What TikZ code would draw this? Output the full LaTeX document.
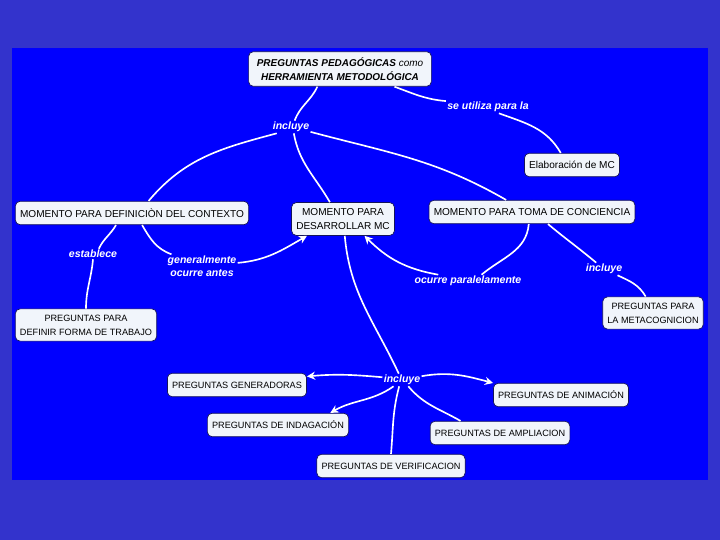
\documentclass[tikz,border=0pt]{standalone}
\usepackage{fontspec}
\setmainfont{Liberation Sans}
\usetikzlibrary{arrows.meta}
\definecolor{frame}{RGB}{51,51,204}
\definecolor{sheet}{RGB}{0,0,255}
\definecolor{boxfill}{RGB}{241,245,251}
\definecolor{boxline}{RGB}{20,20,90}
\tikzset{
  concept/.style={rectangle,rounded corners=4pt,fill=boxfill,draw=boxline,line width=.6pt,
    align=center,inner xsep=4pt,inner ysep=5pt,minimum height=20pt},
  bigc/.style={concept,font=\fontsize{8.6}{12}\selectfont},
  smallc/.style={concept,font=\fontsize{7.8}{12}\selectfont},
  linklab/.style={text=white,font=\fontsize{9}{11}\selectfont\bfseries\itshape,inner sep=1pt,align=center},
  link/.style={draw=white,line width=1.4pt},
  arr/.style={link,-{Stealth[length=7pt,width=7pt]}}
}

\begin{document}
\begin{tikzpicture}[x=0.03cm,y=-0.03cm]
  \useasboundingbox (0,0) rectangle (720,540);
  \fill[frame] (0,0) rectangle (720,540);
  \fill[sheet] (12,48) rectangle (708,480);

  \node[bigc,font=\fontsize{8.5}{12}\selectfont\itshape,inner xsep=7pt] (top) at (340,69)
    {\textbf{PREGUNTAS PEDAGÓGICAS} como\\\textbf{HERRAMIENTA METODOLÓGICA}};
  \node[bigc] (elab) at (572,165) {Elaboración de MC};
  \node[bigc] (defin) at (132,213) {MOMENTO PARA DEFINICIÒN DEL CONTEXTO};
  \node[bigc] (dev) at (343,219) {MOMENTO PARA\\DESARROLLAR MC};
  \node[bigc] (aware) at (532,212) {MOMENTO PARA TOMA DE CONCIENCIA};
  \node[smallc] (defform) at (86,325) {PREGUNTAS PARA\\DEFINIR FORMA DE TRABAJO};
  \node[smallc] (meta) at (653,313) {PREGUNTAS PARA\\LA METACOGNICION};
  \node[smallc] (gen) at (237,385) {PREGUNTAS GENERADORAS};
  \node[smallc] (anim) at (561,395) {PREGUNTAS DE ANIMACIÓN};
  \node[smallc] (indag) at (278,425) {PREGUNTAS DE INDAGACIÓN};
  \node[smallc] (ampl) at (500,433) {PREGUNTAS DE AMPLIACION};
  \node[smallc] (verif) at (391,466) {PREGUNTAS DE VERIFICACION};

  \node[linklab] (inc1) at (291,127) {incluye};
  \node[linklab] (uses) at (488,107) {se utiliza para la};
  \node[linklab] (estab) at (93,254) {establece};
  \node[linklab] (before) at (202,266) {generalmente\\ocurre antes};
  \node[linklab] (paral) at (468,281) {ocurre paralelamente};
  \node[linklab] (inc2) at (604,269) {incluye};
  \node[linklab] (inc3) at (402,380) {incluye};

  \draw[link] (top.218) to[out=-115,in=70] (inc1.60);
  \draw[link] (inc1.204) to[out=195,in=50] (defin.36);
  \draw[link] (inc1.-66) to[out=-80,in=120] (dev.128);
  \draw[link] (inc1.-14) to[out=-15,in=150] (aware.155);
  \draw[link] (top.-18) to[out=-20,in=175] (uses.172);
  \draw[link] (uses.-30) to[out=-20,in=120] (elab.133);
  \draw[link] (defin.217) to[out=-120,in=65] (estab.42);
  \draw[link] (estab.south) to[out=-95,in=90] (defform.north);
  \draw[link] (defin.-50) to[out=-60,in=160] (before.159);
  \draw[arr] (before.5) to[out=5,in=210] (dev.205);
  \draw[link] (aware.255) to[out=-95,in=40] (paral.25);
  \draw[arr] (paral.168) to[out=170,in=-45] (dev.-38);
  \draw[link] (aware.-37) to[out=-40,in=140] (inc2.141);
  \draw[link] (inc2.-25) to[out=-25,in=120] (meta.114);
  \draw[link] (dev.-84) to[out=-85,in=115] (inc3.117);
  \draw[arr] (inc3.172) to[out=175,in=5] (gen.7);
  \draw[arr] (inc3.11) to[out=10,in=165] (anim.170);
  \draw[arr] (inc3.217) to[out=215,in=30] (indag.13);
  \draw[link] (inc3.-45) to[out=-50,in=150] (ampl.163);
  \draw[link] (inc3.246) to[out=-105,in=85] (verif.north);
\end{tikzpicture}
\end{document}
